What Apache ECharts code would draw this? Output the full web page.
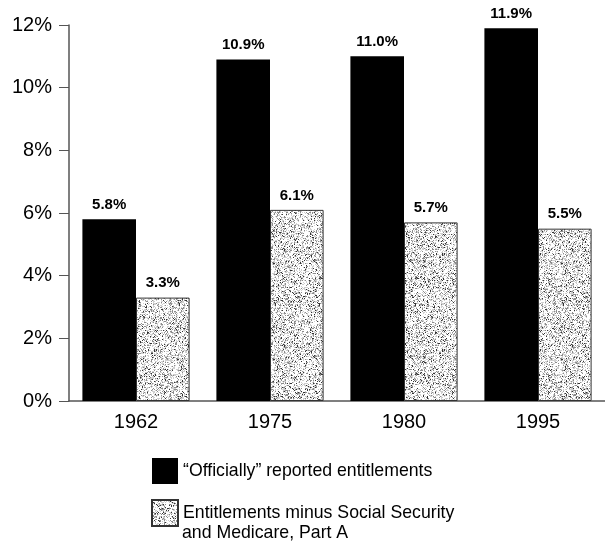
<!DOCTYPE html>
<html>
<head>
<meta charset="utf-8">
<script src="https://cdn.jsdelivr.net/npm/echarts@6/dist/echarts.min.js"></script>
<style>
  html, body { margin: 0; padding: 0; background: #fff; }
  #chart { width: 605px; height: 546px; }
</style>
</head>
<body>
<div id="chart"></div>
<script>
const years = ['1962', '1975', '1980', '1995']
const officialValues = [5.8, 10.9, 11.0, 11.9]
const minusSSValues = [3.3, 6.1, 5.7, 5.5]
const yTicks = [0, 2, 4, 6, 8, 10, 12]

// stipple texture for the second series
const makeStipple = () => {
    const size = 96
    const cv = document.createElement('canvas')
    cv.width = size
    cv.height = size
    const ctx = cv.getContext('2d')
    ctx.fillStyle = '#ffffff'
    ctx.fillRect(0, 0, size, size)
    let seed = 12345
    const next = () => {
        seed = (seed * 1103515245 + 12345) & 0x7fffffff
        return seed / 0x7fffffff
    }
    for (let y = 0; y < size; y++) {
        for (let x = 0; x < size; x++) {
            const r = next()
            if (r < 0.05) ctx.fillStyle = '#333333'
            else if (r < 0.2) ctx.fillStyle = '#8c8c8c'
            else if (r < 0.45) ctx.fillStyle = '#cfcfcf'
            else continue
            ctx.fillRect(x, y, 1, 1)
        }
    }
    return cv
}

const stipple = { image: makeStipple(), repeat: 'repeat' }
const font = 'Liberation Sans, Arial, Helvetica, sans-serif'
const pct = (p) => p.value.toFixed(1) + '%'

const chart = echarts.init(document.getElementById('chart'))
const option = {
    animation: false,
    textStyle: { fontFamily: font },
    grid: { left: 69, top: 25, width: 540, height: 376 },
    xAxis: {
        type: 'category',
        data: years,
        axisLine: { lineStyle: { color: '#555', width: 1.5 } },
        axisTick: { show: false },
        axisLabel: { color: '#000', fontSize: 20, margin: 11, fontFamily: font }
    },
    yAxis: {
        type: 'value',
        min: yTicks[0],
        max: yTicks[yTicks.length - 1],
        interval: 2,
        splitLine: { show: false },
        axisLine: { show: true, lineStyle: { color: '#555', width: 1.5 } },
        axisTick: { show: true, length: 10, lineStyle: { color: '#555' } },
        axisLabel: { color: '#000', fontSize: 20, margin: 17, fontFamily: font, formatter: '{value}%' }
    },
    legend: {
        orient: 'vertical',
        left: 146,
        top: 453,
        icon: 'rect',
        itemWidth: 26,
        itemHeight: 26,
        itemGap: 15,
        textStyle: { color: '#000', fontSize: 17.7, fontFamily: font },
        data: ['\u201cOfficially\u201d reported entitlements', 'Entitlements minus Social Security']
    },
    graphic: [{
        type: 'text',
        left: 182,
        top: 524,
        style: { text: 'and Medicare, Part A', fill: '#000', fontSize: 17.7, fontFamily: font }
    }],
    series: [
        {
            name: '\u201cOfficially\u201d reported entitlements',
            type: 'bar',
            data: officialValues,
            barGap: '0%',
            barCategoryGap: '20%',
            itemStyle: { color: '#000' },
            label: {
                show: true, position: 'top', distance: 7, color: '#000',
                fontSize: 15, fontWeight: 'bold', formatter: pct
            }
        },
        {
            name: 'Entitlements minus Social Security',
            type: 'bar',
            data: minusSSValues,
            itemStyle: { color: stipple, borderColor: '#333', borderWidth: 1 },
            label: {
                show: true, position: 'top', distance: 7, color: '#000',
                fontSize: 15, fontWeight: 'bold', formatter: pct
            }
        }
    ]
}
chart.setOption(option)
</script>
</body>
</html>
